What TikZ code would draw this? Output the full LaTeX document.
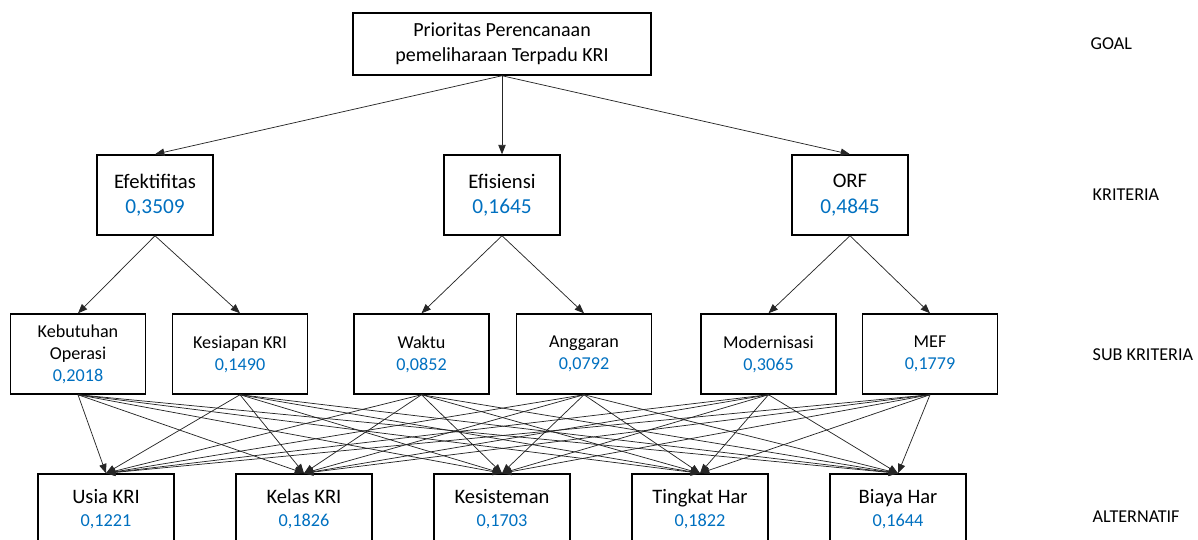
\documentclass[tikz,border=0pt]{standalone}
\usepackage{fontspec}
\setmainfont{Carlito}
\usetikzlibrary{arrows.meta}
\definecolor{valblue}{RGB}{0,112,192}
\newcommand{\val}[1]{\textcolor{valblue}{#1}}
\newcommand{\altval}[1]{{\fontsize{13.7}{17}\selectfont\textcolor{valblue}{#1}}}
\begin{document}
\begin{tikzpicture}[x=0.75pt,y=-0.75pt,
  box/.style={draw,line width=1.1pt,align=center,inner sep=0pt},
  goalbox/.style={box,minimum width=223.5pt,minimum height=46.5pt,font=\fontsize{15}{18.5}\selectfont},
  kritbox/.style={box,minimum width=87pt,minimum height=60pt,font=\fontsize{15.5}{19}\selectfont},
  subbox/.style={box,minimum width=101.25pt,minimum height=60pt,font=\fontsize{13.6}{16.5}\selectfont},
  altbox/.style={box,minimum width=102pt,minimum height=52.5pt,font=\fontsize{15.4}{17.3}\selectfont},
  level/.style={anchor=west,font=\fontsize{13.6}{16}\selectfont},
  link/.style={-{Triangle[length=7pt,width=5.5pt]},line width=0.55pt,black!85}]
  \useasboundingbox (0,0) rectangle (1198,539);
  \node[goalbox] (g) at (502,44) {Prioritas Perencanaan\\pemeliharaan Terpadu KRI};
  \node[kritbox] (k1) at (155,195) {Efektifitas\\\val{\fontsize{16}{19}\selectfont 0,3509}};
  \node[kritbox] (k2) at (502,195) {Efisiensi\\\val{\fontsize{16}{19}\selectfont 0,1645}};
  \node[kritbox] (k3) at (850,195) {ORF\\\val{\fontsize{16}{19}\selectfont 0,4845}};
  \node[subbox] (s1) at (78,354) {Kebutuhan\\Operasi\\\val{0,2018}};
  \node[subbox] (s2) at (240,354) {Kesiapan KRI\\\val{0,1490}};
  \node[subbox] (s3) at (421.5,354) {Waktu\\\val{0,0852}};
  \node[subbox] (s4) at (584,354) {Anggaran\\\val{0,0792}};
  \node[subbox] (s5) at (768.5,354) {Modernisasi\\\val{0,3065}};
  \node[subbox] (s6) at (930,354) {MEF\\\val{0,1779}};
  \node[altbox] (a1) at (106,509) {Usia KRI\\\altval{0,1221}};
  \node[altbox] (a2) at (304,509) {Kelas KRI\\\altval{0,1826}};
  \node[altbox] (a3) at (502,509) {Kesisteman\\\altval{0,1703}};
  \node[altbox] (a4) at (700,509) {Tingkat Har\\\altval{0,1822}};
  \node[altbox] (a5) at (898,509) {Biaya Har\\\altval{0,1644}};
  \node[level] (l1) at (1086,44) {GOAL};
  \node[level] (l2) at (1088,195) {KRITERIA};
  \node[level] (l3) at (1088,355) {SUB KRITERIA};
  \node[level] (l4) at (1088,517) {ALTERNATIF};
  \draw[link] (g.south) -- (k1.north);
  \draw[link] (g.south) -- (k2.north);
  \draw[link] (g.south) -- (k3.north);
  \draw[link] (k1.south) -- (s1.north);
  \draw[link] (k1.south) -- (s2.north);
  \draw[link] (k2.south) -- (s3.north);
  \draw[link] (k2.south) -- (s4.north);
  \draw[link] (k3.south) -- (s5.north);
  \draw[link] (k3.south) -- (s6.north);
  \draw[link] (s1.south) -- (a1.north);
  \draw[link] (s1.south) -- (a2.north);
  \draw[link] (s1.south) -- (a3.north);
  \draw[link] (s1.south) -- (a4.north);
  \draw[link] (s1.south) -- (a5.north);
  \draw[link] (s2.south) -- (a1.north);
  \draw[link] (s2.south) -- (a2.north);
  \draw[link] (s2.south) -- (a3.north);
  \draw[link] (s2.south) -- (a4.north);
  \draw[link] (s2.south) -- (a5.north);
  \draw[link] (s3.south) -- (a1.north);
  \draw[link] (s3.south) -- (a2.north);
  \draw[link] (s3.south) -- (a3.north);
  \draw[link] (s3.south) -- (a4.north);
  \draw[link] (s3.south) -- (a5.north);
  \draw[link] (s4.south) -- (a1.north);
  \draw[link] (s4.south) -- (a2.north);
  \draw[link] (s4.south) -- (a3.north);
  \draw[link] (s4.south) -- (a4.north);
  \draw[link] (s4.south) -- (a5.north);
  \draw[link] (s5.south) -- (a1.north);
  \draw[link] (s5.south) -- (a2.north);
  \draw[link] (s5.south) -- (a3.north);
  \draw[link] (s5.south) -- (a4.north);
  \draw[link] (s5.south) -- (a5.north);
  \draw[link] (s6.south) -- (a1.north);
  \draw[link] (s6.south) -- (a2.north);
  \draw[link] (s6.south) -- (a3.north);
  \draw[link] (s6.south) -- (a4.north);
  \draw[link] (s6.south) -- (a5.north);
\end{tikzpicture}
\end{document}
